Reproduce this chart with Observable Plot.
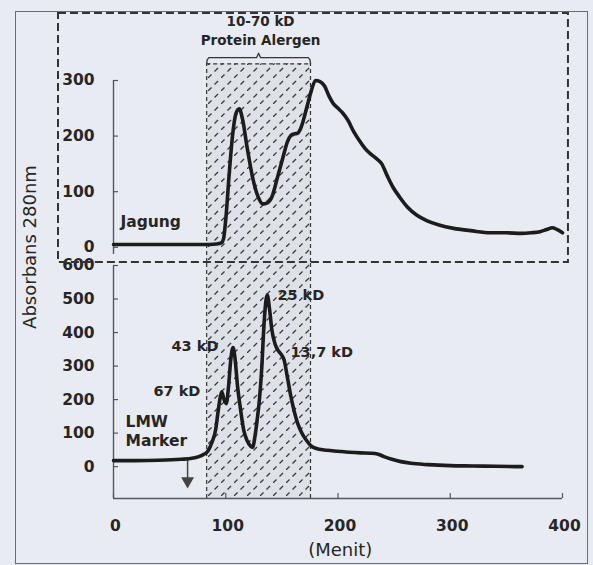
<!DOCTYPE html>
<html>
<head>
<meta charset="utf-8">
<script src="https://cdn.jsdelivr.net/npm/d3@7"></script>
<script src="https://cdn.jsdelivr.net/npm/@observablehq/plot@0.6"></script>
<style>
  html, body { margin: 0; padding: 0; background: #e9ebf3; }
  #wrap { position: relative; width: 593px; height: 565px; background: #e9ebf3; overflow: hidden; font-family: "DejaVu Sans", sans-serif; }
  #wrap > .plotbox { position: absolute; left: 0; }
  #frame { position: absolute; left: 15px; top: 11px; width: 571px; height: 551px; border: 1px solid #6a6c74; }
  #ylab { position: absolute; left: 29px; top: 247px; transform: translate(-50%, -50%) rotate(-90deg); white-space: nowrap; font: 18px "DejaVu Sans", sans-serif; color: #262626; }
</style>
</head>
<body>
<svg width="0" height="0" style="position:absolute">
  <defs>
    <pattern id="hatch" patternUnits="userSpaceOnUse" width="13" height="13">
      <rect width="13" height="13" fill="#dfe1e9"/>
      <path d="M0,13 L13,0" stroke="#3a3a3a" stroke-width="1.3" stroke-dasharray="5 4.2" fill="none"/>
    </pattern>
  </defs>
</svg>
<div id="wrap">
  <div id="frame"></div>
  <div id="ylab">Absorbans 280nm</div>
</div>
<script>
// ---- data ----
const jagungTime = [0, 20, 40, 60, 80, 92, 96, 98, 100, 103, 106, 109, 112, 115, 119, 124, 129, 133, 137, 141, 146, 151, 155, 158, 161, 164, 167, 172, 176, 180, 184, 188, 192, 196, 200, 204, 209, 214, 219, 224, 229, 234, 239, 244, 249, 255, 262, 270, 279, 290, 303, 318, 336, 350, 363, 372, 380, 386, 391, 395, 400];
const jagungAbs  = [5, 5, 5, 5, 5, 6, 8, 15, 50, 130, 200, 240, 249, 230, 180, 125, 90, 78, 80, 90, 125, 162, 190, 201, 204, 205, 215, 250, 280, 300, 298, 290, 272, 258, 250, 242, 228, 208, 192, 178, 168, 160, 150, 128, 108, 90, 72, 58, 48, 40, 34, 30, 26, 26, 25, 26, 28, 32, 35, 32, 26];

const markerTime = [0, 20, 40, 60, 70, 76, 80, 84, 88, 91, 93, 95, 96.5, 98.5, 100.5, 102.5, 104.5, 106.5, 108, 110.5, 113, 116, 119, 122, 124, 126, 128, 130, 132, 134, 136, 137, 139, 141, 144, 147, 150, 152, 155, 158, 161, 164, 168, 172, 176, 180, 190, 200, 210, 220, 229, 235, 241, 248, 256, 265, 280, 300, 320, 340, 364];
const markerAbs  = [18, 18, 19, 22, 25, 30, 36, 46, 75, 110, 160, 205, 223, 200, 188, 240, 320, 355, 330, 240, 175, 109, 78, 62, 58, 90, 140, 200, 290, 420, 500, 512, 470, 410, 365, 345, 332, 318, 265, 210, 165, 130, 99, 78, 62, 55, 49, 46, 43, 41, 40, 38, 30, 22, 15, 10, 6, 3, 2, 1, 0];

const xTicks = [0, 100, 200, 300, 400];
const topYTicks = [0, 100, 200, 300];
const bottomYTicks = [0, 100, 200, 300, 400, 500, 600];
const allergenRange = [83, 175.5];   // minutes, hatched 10-70 kD region
const injectionTime = 66;           // LMW marker arrow
const peakLabels = ["67 kD", "43 kD", "25 kD", "13,7 kD"];

const ink = "#1c1c1c";
const axisInk = "#55575e";
const textInk = "#262626";
const baseStyle = {background: "transparent", overflow: "visible", fontFamily: "DejaVu Sans, sans-serif", color: textInk};

const jagung = jagungTime.map((t, i) => ({t, a: jagungAbs[i]}));
const marker = markerTime.map((t, i) => ({t, a: markerAbs[i]}));

const [h0, h1] = allergenRange;
const brace = [[h0, 330], [h0 + 0.4, 337], [h0 + 2, 341], [(h0 + h1) / 2 - 1.8, 341], [(h0 + h1) / 2, 349], [(h0 + h1) / 2 + 1.8, 341], [h1 - 2, 341], [h1 - 0.4, 337], [h1, 330]];
const dash = {stroke: "#333", strokeWidth: 1.2, strokeDasharray: "4,3"};

// ---- bottom panel (LMW marker) ----
const bottomPlot = Plot.plot({
  width: 593, height: 303,
  marginLeft: 113, marginRight: 31, marginTop: 3, marginBottom: 67,
  x: {domain: [0, 400], axis: null},
  y: {domain: [-95, 600], axis: null},
  style: baseStyle,
  marks: [
    Plot.rect([0], {x1: h0, x2: h1, y1: -95, y2: 609, fill: "url(#hatch)"}),
    Plot.ruleX(allergenRange, {y1: -95, y2: 609, ...dash}),
    Plot.ruleX([0], {stroke: axisInk, strokeWidth: 1.4}),
    Plot.ruleY([-95], {stroke: axisInk, strokeWidth: 1.4}),
    Plot.ruleY(bottomYTicks, {y: d => d, x1: 0, x2: 4.5, stroke: axisInk, strokeWidth: 1.2}),
    Plot.ruleX(xTicks, {x: d => d, y1: -95, y2: -80, stroke: axisInk, strokeWidth: 1.2}),
    Plot.axisY({ticks: bottomYTicks, tickSize: 0, tickPadding: 19, fontSize: 15.5, fontWeight: "bold", fill: textInk, label: null}),
    Plot.axisX({ticks: xTicks, tickSize: 0, tickPadding: 21, fontSize: 15.5, fontWeight: "bold", fill: textInk, label: null, dx: 2}),
    Plot.text(["(Menit)"], {x: 202, frameAnchor: "bottom", dy: 57, fontSize: 18, fill: textInk}),
    Plot.ruleX([injectionTime], {y1: 18, y2: -42, stroke: "#444", strokeWidth: 1.5}),
    Plot.dot([injectionTime], {x: d => d, y: -42.6, symbol: "triangle", r: 4.8, rotate: 180, fill: "#444", stroke: "none"}),
    Plot.line(marker, {x: "t", y: "a", stroke: ink, strokeWidth: 3.6, curve: "monotone-x", strokeLinejoin: "round"}),
    Plot.text(["LMW"], {x: 10.7, y: 133, textAnchor: "start", fontSize: 15.5, fontWeight: "bold", fill: textInk}),
    Plot.text(["Marker"], {x: 10.7, y: 76, textAnchor: "start", fontSize: 15.5, fontWeight: "bold", fill: textInk}),
    Plot.text([peakLabels[0]], {x: 35.6, y: 225, textAnchor: "start", fontSize: 14.5, fontWeight: "bold", fill: textInk}),
    Plot.text([peakLabels[1]], {x: 51.7, y: 359, textAnchor: "start", fontSize: 14.5, fontWeight: "bold", fill: textInk}),
    Plot.text([peakLabels[2]], {x: 146, y: 511, textAnchor: "start", fontSize: 14.5, fontWeight: "bold", fill: textInk}),
    Plot.text([peakLabels[3]], {x: 157.7, y: 341, textAnchor: "start", fontSize: 14.5, fontWeight: "bold", fill: textInk})
  ]
});

// ---- top panel (Jagung) ----
const topPlot = Plot.plot({
  width: 593, height: 268,
  marginLeft: 113, marginRight: 31, marginTop: 80, marginBottom: 14,
  x: {domain: [0, 400], axis: null},
  y: {domain: [-13, 300], axis: null},
  style: baseStyle,
  marks: [
    Plot.rect([0], {x1: h0, x2: h1, y1: -27.4, y2: 330, fill: "url(#hatch)"}),
    Plot.ruleX(allergenRange, {y1: -27.4, y2: 330, ...dash}),
    Plot.ruleY([330], {x1: h0, x2: h1, ...dash}),
    Plot.line(brace, {x: d => d[0], y: d => d[1], stroke: "#333", strokeWidth: 1.3}),
    Plot.ruleX([0], {stroke: axisInk, strokeWidth: 1.4}),
    Plot.ruleY(topYTicks, {y: d => d, x1: 0, x2: 4.5, stroke: axisInk, strokeWidth: 1.2}),
    Plot.axisY({ticks: topYTicks, tickSize: 0, tickPadding: 19, fontSize: 15.5, fontWeight: "bold", fill: textInk, label: null}),
    Plot.line(jagung, {x: "t", y: "a", stroke: ink, strokeWidth: 3.6, curve: "monotone-x", strokeLinejoin: "round"}),
    Plot.text(["Jagung"], {x: 6.2, y: 45, textAnchor: "start", fontSize: 15.5, fontWeight: "bold", fill: textInk}),
    Plot.text(["10-70 kD"], {x: 131, y: 405, fontSize: 13.5, fontWeight: "bold", fill: textInk}),
    Plot.text(["Protein Alergen"], {x: 131, y: 372, fontSize: 13.5, fontWeight: "bold", fill: textInk}),
    Plot.rect([0], {x1: -49, x2: 405.3, y1: -27.4, y2: 420.5, fill: "none", stroke: "#333", strokeWidth: 2, strokeDasharray: "8,4"})
  ]
});

const wrap = document.getElementById("wrap");
const b = document.createElement("div"); b.className = "plotbox"; b.style.top = "262px"; b.appendChild(bottomPlot);
const tp = document.createElement("div"); tp.className = "plotbox"; tp.style.top = "0px"; tp.appendChild(topPlot);
wrap.appendChild(b);
wrap.appendChild(tp);
</script>
</body>
</html>
